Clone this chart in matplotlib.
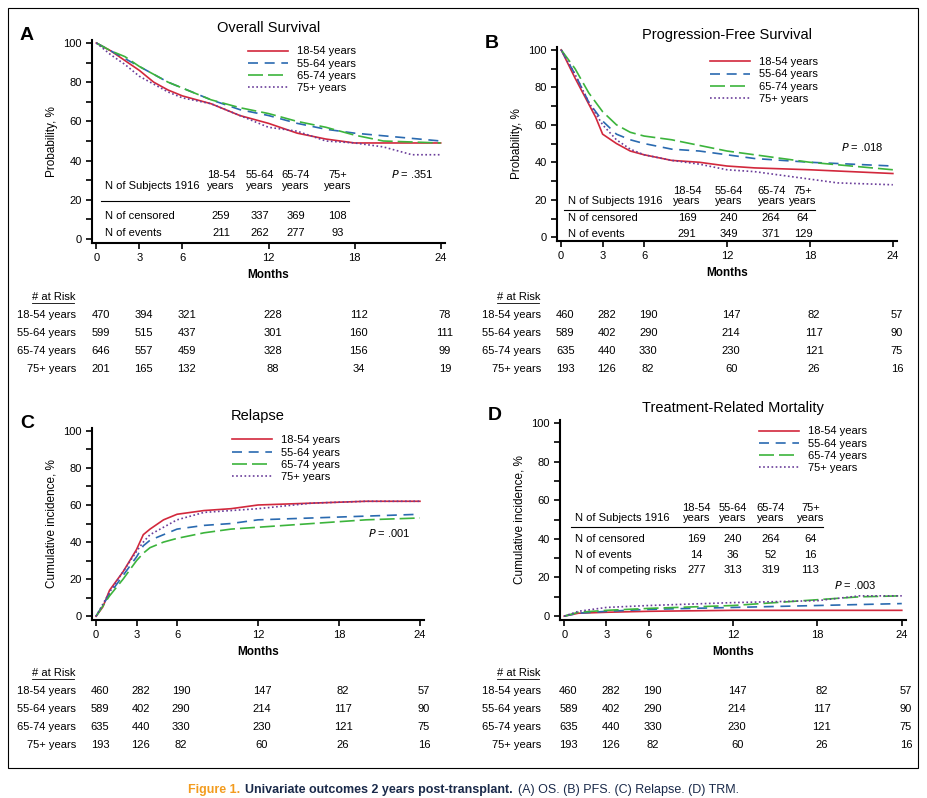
import matplotlib
matplotlib.use("Agg")
import matplotlib.pyplot as plt
from matplotlib.transforms import blended_transform_factory
from matplotlib.patches import Rectangle
from matplotlib.lines import Line2D

plt.rcParams["font.family"] = ["Liberation Sans", "DejaVu Sans"]

groups = ["18-54 years", "55-64 years", "65-74 years", "75+ years"]
colors = ["#d2283c", "#2a6ab0", "#3cb43c", "#6a3d9a"]
dashes = [None, (6, 4), (9, 3), (1, 1.5)]
xticks = [0, 3, 6, 12, 18, 24]

# curve knots (months, %)
os_curves = [
    ([0, 1, 2, 3, 4, 5, 6, 8, 10, 12, 14, 16, 18, 24], [100, 96, 91, 86, 80, 76, 73, 69, 63, 59, 54, 51, 49, 49]),
    ([0, 1, 2, 3, 4, 5, 6, 8, 10, 12, 14, 16, 18, 24], [100, 96, 92, 88, 84, 80, 77, 71, 66, 63, 59, 56, 54, 50]),
    ([0, 1, 2, 3, 4, 5, 6, 8, 10, 12, 14, 16, 18, 20, 24], [100, 96, 93, 88, 84, 80, 77, 71, 67, 64, 60, 57, 53, 50, 49]),
    ([0, 1, 2, 3, 4, 5, 6, 8, 10, 12, 14, 16, 18, 20, 21, 22, 24], [100, 94, 89, 83, 79, 75, 72, 69, 63, 57, 55, 50, 49, 47, 45, 43, 43]),
]
pfs_curves = [
    ([0, 1, 2, 2.5, 3, 4, 5, 6, 8, 10, 12, 14, 18, 24], [100, 85, 71, 64, 55, 50, 46, 44, 41, 40, 38, 37, 36, 34]),
    ([0, 1, 2, 3, 4, 5, 6, 8, 10, 12, 14, 18, 24], [100, 87, 72, 62, 55, 52, 50, 47, 46, 44, 42, 40, 38]),
    ([0, 1, 2, 3, 4, 5, 6, 8, 10, 12, 14, 18, 24], [100, 90, 77, 67, 60, 56, 54, 52, 49, 46, 44, 40, 36]),
    ([0, 1, 2, 3, 4, 5, 6, 8, 10, 12, 14, 16, 18, 20, 24], [100, 87, 72, 60, 52, 47, 44, 41, 39, 36, 35, 33, 31, 29, 28]),
]
rel_curves = [
    ([0, 0.5, 1, 2, 3, 3.5, 4, 5, 6, 8, 10, 12, 16, 20, 24], [0, 5, 14, 24, 36, 44, 47, 52, 55, 57, 58, 60, 61, 62, 62]),
    ([0, 1, 2, 3, 3.5, 4, 5, 6, 8, 10, 12, 16, 20, 24], [0, 12, 22, 32, 38, 41, 44, 47, 49, 50, 52, 53, 54, 55]),
    ([0, 1, 2, 3, 3.5, 4, 5, 6, 8, 10, 12, 16, 20, 24], [0, 11, 20, 30, 34, 37, 40, 42, 45, 47, 48, 50, 52, 53]),
    ([0, 1, 2, 3, 3.5, 4, 5, 6, 8, 10, 12, 16, 20, 24], [0, 13, 24, 35, 40, 44, 48, 52, 56, 57, 58, 61, 62, 62]),
]
trm_curves = [
    ([0, 1, 3, 6, 12, 18, 24], [0, 1.5, 2, 2.5, 3, 3, 3]),
    ([0, 1, 3, 6, 12, 18, 24], [0, 1.5, 2.5, 3.5, 4.5, 5.5, 6.5]),
    ([0, 1, 3, 6, 12, 15, 18, 21, 24], [0, 2, 3, 4, 5.5, 7, 8.5, 10, 10.5]),
    ([0, 1, 3, 6, 12, 18, 21, 24], [0, 2.5, 4.5, 5.5, 7, 8, 10.5, 10.5]),
]

risk_os = [[470, 394, 321, 228, 112, 78], [599, 515, 437, 301, 160, 111],
           [646, 557, 459, 328, 156, 99], [201, 165, 132, 88, 34, 19]]
risk_other = [[460, 282, 190, 147, 82, 57], [589, 402, 290, 214, 117, 90],
              [635, 440, 330, 230, 121, 75], [193, 126, 82, 60, 26, 16]]

tab_head = ["18-54\nyears", "55-64\nyears", "65-74\nyears", "75+\nyears"]
os_rows = [("N of censored", [259, 337, 369, 108]), ("N of events", [211, 262, 277, 93])]
pfs_rows = [("N of censored", [169, 240, 264, 64]), ("N of events", [291, 349, 371, 129])]
trm_rows = [("N of censored", [169, 240, 264, 64]), ("N of events", [14, 36, 52, 16]),
            ("N of competing risks", [277, 313, 319, 113])]

FS = 8
W, H = 927, 798
fig = plt.figure(figsize=(W / 100, H / 100), dpi=100)
fig.patches.append(Rectangle((8 / W, 1 - 768 / H), 910 / W, 760 / H, transform=fig.transFigure,
                             fill=False, lw=0.8, ec="black"))


def make_ax(x0, x1, ytop, ybot, curves, title, ylabel, letter):
    ax = fig.add_axes([x0 / W, 1 - ybot / H, (x1 - x0) / W, (ybot - ytop) / H])
    for (xs, ys), c, d, g in zip(curves, colors, dashes, groups):
        ln, = ax.plot(xs, ys, color=c, lw=1.2, label=g)
        if d:
            ln.set_dashes(d)
    ax.set_xlim(-0.3, 24.3)
    ax.set_ylim(-2, 101.5)
    ax.set_xticks(xticks)
    ax.set_yticks(range(0, 101, 20))
    ax.set_yticks(range(10, 100, 20), minor=True)
    ax.tick_params(labelsize=FS, width=1.2, length=4, direction="out")
    ax.tick_params(which="minor", width=1.2, length=4)
    for s in ["top", "right"]:
        ax.spines[s].set_visible(False)
    for s in ["left", "bottom"]:
        ax.spines[s].set_linewidth(1.5)
    ax.set_title(title, fontsize=10.5, pad=6)
    ax.set_xlabel("Months", fontsize=8.5, fontweight="bold", fontstretch="condensed")
    ax.set_ylabel(ylabel, fontsize=8.5, fontstretch="condensed")
    fig.text((x0 - 72) / W, 1 - (ytop - 4) / H, letter, fontsize=14, fontweight="bold", va="center")
    return ax


def legend(ax, anchor):
    ax.legend(loc="upper right", bbox_to_anchor=anchor, frameon=False, fontsize=FS,
              handlelength=3.6, labelspacing=0.2, borderaxespad=0)


def table(ax, x0, cols, y_head, y_line, line_x1, rows, row_y):
    ax.text(x0, y_head, "N of Subjects 1916", fontsize=FS, va="bottom")
    for c, h in zip(cols, tab_head):
        ax.text(c, y_head, h, fontsize=FS, va="bottom", ha="center", linespacing=1.1)
    ax.plot([x0 - 0.3, line_x1], [y_line, y_line], color="black", lw=0.8)
    for (lab, vals), y in zip(rows, row_y):
        ax.text(x0, y, lab, fontsize=FS, va="center")
        for c, v in zip(cols, vals):
            ax.text(c, y, str(v), fontsize=FS, va="center", ha="center")


def risk(ax, risk_vals, y_head, label_x):
    tr = blended_transform_factory(ax.transData, fig.transFigure)
    fig.text(label_x / W - 0.048, 1 - y_head / H, "# at Risk", fontsize=FS, va="center")
    fig.add_artist(Line2D([label_x / W - 0.048, label_x / W - 0.002], [1 - (y_head + 6) / H] * 2,
                          color="black", lw=0.6))
    for i, (g, vals) in enumerate(zip(groups, risk_vals)):
        y = 1 - (y_head + 18 * (i + 1)) / H
        fig.text(label_x / W, y, g, fontsize=FS, va="center", ha="right")
        for x, v in zip(xticks, vals):
            ax.text(x + 0.3, y, str(v), fontsize=FS, va="center", ha="center", transform=tr)


# A
axA = make_ax(92, 445, 40, 243, os_curves, "Overall Survival", "Probability, %", "A")
legend(axA, (0.76, 0.99))
table(axA, 0.6, [8.7, 11.4, 13.9, 16.8], 24.5, 19.4, 17.6, os_rows, [11.7, 3])
axA.text(23.5, 33, "$P$ = .351", fontsize=FS, ha="right", va="center")
risk(axA, risk_os, 297, 76)

# B
axB = make_ax(557, 897, 47, 241, pfs_curves, "Progression-Free Survival", "Probability, %", "B")
legend(axB, (0.78, 0.97))
table(axB, 0.5, [9.1, 12.1, 15.2, 17.5], 16.5, 14.4, 18.4, pfs_rows, [10.5, 2])
axB.text(23.3, 48, "$P$ = .018", fontsize=FS, ha="right", va="center")
risk(axB, risk_other, 297, 541)

# C
axC = make_ax(92, 424, 428, 620, rel_curves, "Relapse", "Cumulative incidence, %", "C")
legend(axC, (0.76, 0.985))
axC.text(23.3, 45, "$P$ = .001", fontsize=FS, ha="right", va="center")
risk(axC, risk_other, 673, 76)

# D
axD = make_ax(560, 906, 420, 620, trm_curves, "Treatment-Related Mortality", "Cumulative incidence, %", "D")
legend(axD, (0.9, 0.99))
table(axD, 0.76, [9.4, 12.0, 14.7, 17.5], 48, 46, 18.4, trm_rows, [40, 31.6, 23.8])
axD.text(22.2, 16, "$P$ = .003", fontsize=FS, ha="right", va="center")
risk(axD, risk_other, 673, 541)

# caption, pieces laid out one after another
cy = 1 - 790 / H
parts = [("Figure 1.", "#f39c1f", "bold"),
         ("Univariate outcomes 2 years post-transplant.", "#1a2a4a", "bold"),
         ("(A) OS. (B) PFS. (C) Relapse. (D) TRM.", "#1a2a4a", "normal")]
renderer = fig.canvas.get_renderer()
texts = [fig.text(0, cy, s, color=c, fontweight=w, fontsize=9, va="center") for s, c, w in parts]
widths = [t.get_window_extent(renderer).width for t in texts]
gap = 5
x = (W - (sum(widths) + gap * 2)) / 2
for t, w in zip(texts, widths):
    t.set_x(x / W)
    x += w + gap

fig.savefig("out.png", dpi=100)
